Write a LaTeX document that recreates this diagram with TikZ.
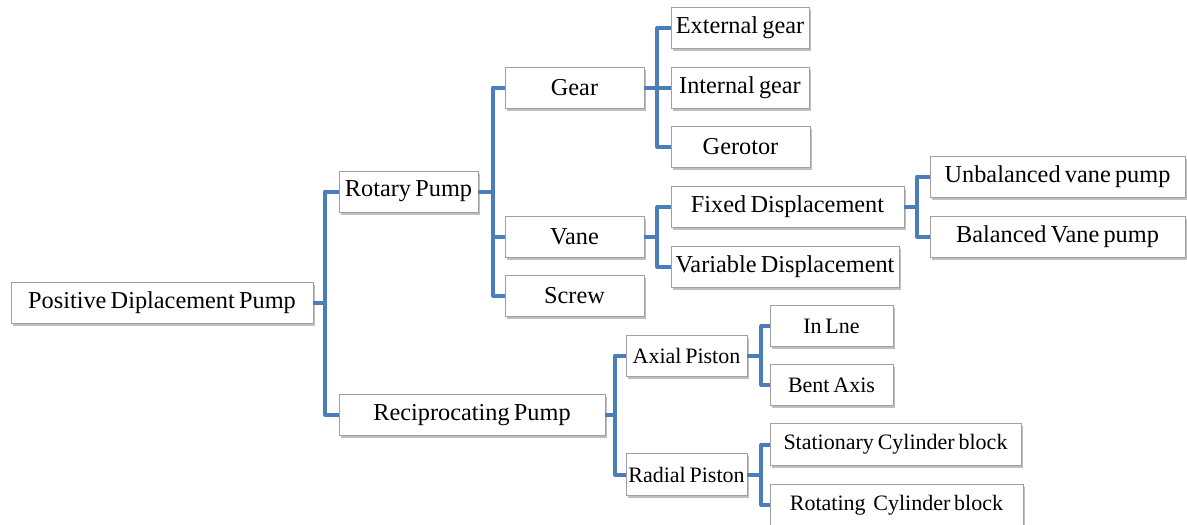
\documentclass[tikz,border=0pt]{standalone}
\usepackage{fontspec}
\setmainfont{Liberation Serif}[WordSpace=0.7]
\usetikzlibrary{shadows}
\definecolor{conn}{RGB}{74,126,187}
\definecolor{boxline}{RGB}{160,160,160}
\tikzset{
  tbox/.style={draw=boxline, line width=0.9pt, fill=white, inner sep=0pt,
    minimum height=41pt, font=\fontsize{24.3}{28}\selectfont,
    drop shadow={shadow xshift=1.5pt, shadow yshift=-2.5pt, fill=black, opacity=0.25}},
  sbox/.style={tbox, font=\fontsize{22}{26}\selectfont},
  link/.style={draw=conn, line width=4pt, line join=round}
}
\begin{document}
\begin{tikzpicture}[x=1pt,y=-1pt]
\useasboundingbox (0,0) rectangle (1187,525);
\fill[white] (0,0) rectangle (1187,525);
\begin{scope}
\clip (0,0) rectangle (1187,525);
% level 0
\node[tbox, minimum width=302pt] (pdp) at (162,303) {Positive Diplacement Pump};
% level 1
\node[tbox, minimum width=139pt] (rot) at (408.5,191.5) {Rotary Pump};
\node[tbox, minimum width=266pt] (rec) at (472,415) {Reciprocating Pump};
% level 2 rotary
\node[tbox, minimum width=139pt] (gear) at (574.5,87.5) {Gear};
\node[tbox, minimum width=139pt] (vane) at (574.5,236.5) {Vane};
\node[tbox, minimum width=139pt] (screw) at (574.5,295.5) {Screw};
% level 3 gear
\node[tbox, minimum width=138pt] (ext) at (740,28) {External gear};
\node[tbox, minimum width=138pt] (int) at (740,87.5) {Internal gear};
\node[tbox, minimum width=139pt] (gero) at (740.5,146.5) {Gerotor};
% level 3 vane
\node[tbox, minimum width=233pt] (fix) at (787.5,207) {Fixed Displacement};
\node[tbox, minimum width=228pt] (var) at (785,266.5) {Variable Displacement};
% level 4 fixed
\node[tbox, minimum width=255pt] (unb) at (1057.5,176.5) {Unbalanced vane pump};
\node[tbox, minimum width=255pt] (bal) at (1057.5,236.5) {Balanced Vane pump};
% level 2 reciprocating
\node[sbox, minimum width=121pt] (axi) at (686.5,355.5) {Axial Piston};
\node[sbox, minimum width=121pt, minimum height=42pt] (rad) at (686.5,474.5) {Radial Piston};
% level 3 pistons
\node[sbox, minimum width=123pt] (inl) at (831.5,326) {In Lne};
\node[sbox, minimum width=123pt] (bent) at (831.5,385) {Bent Axis};
\node[sbox, minimum width=251pt, minimum height=42pt] (stat) at (895.5,444.5) {Stationary Cylinder block};
\node[sbox, minimum width=253pt, minimum height=42pt] (rota) at (896.5,505) {Rotating\ \ Cylinder block};
\end{scope}
% connectors
\draw[link] (pdp.east) -- ++(12,0) |- (rot.west);
\draw[link] (pdp.east) -- ++(12,0) |- (rec.west);
\draw[link] (rot.east) -- ++(15,0) |- (gear.west);
\draw[link] (rot.east) -- ++(15,0) |- (vane.west);
\draw[link] (rot.east) -- ++(15,0) |- (screw.west);
\draw[link] (gear.east) -- ++(13,0) |- (ext.west);
\draw[link] (gear.east) -- (int.west);
\draw[link] (gear.east) -- ++(13,0) |- (gero.west);
\draw[link] (vane.east) -- ++(13,0) |- (fix.west);
\draw[link] (vane.east) -- ++(13,0) |- (var.west);
\draw[link] (fix.east) -- ++(13,0) |- (unb.west);
\draw[link] (fix.east) -- ++(13,0) |- (bal.west);
\draw[link] (rec.east) -- ++(10,0) |- (axi.west);
\draw[link] (rec.east) -- ++(10,0) |- (rad.west);
\draw[link] (axi.east) -- ++(14,0) |- (inl.west);
\draw[link] (axi.east) -- ++(14,0) |- (bent.west);
\draw[link] (rad.east) -- ++(14,0) |- (stat.west);
\draw[link] (rad.east) -- ++(14,0) |- (rota.west);
\end{tikzpicture}
\end{document}
